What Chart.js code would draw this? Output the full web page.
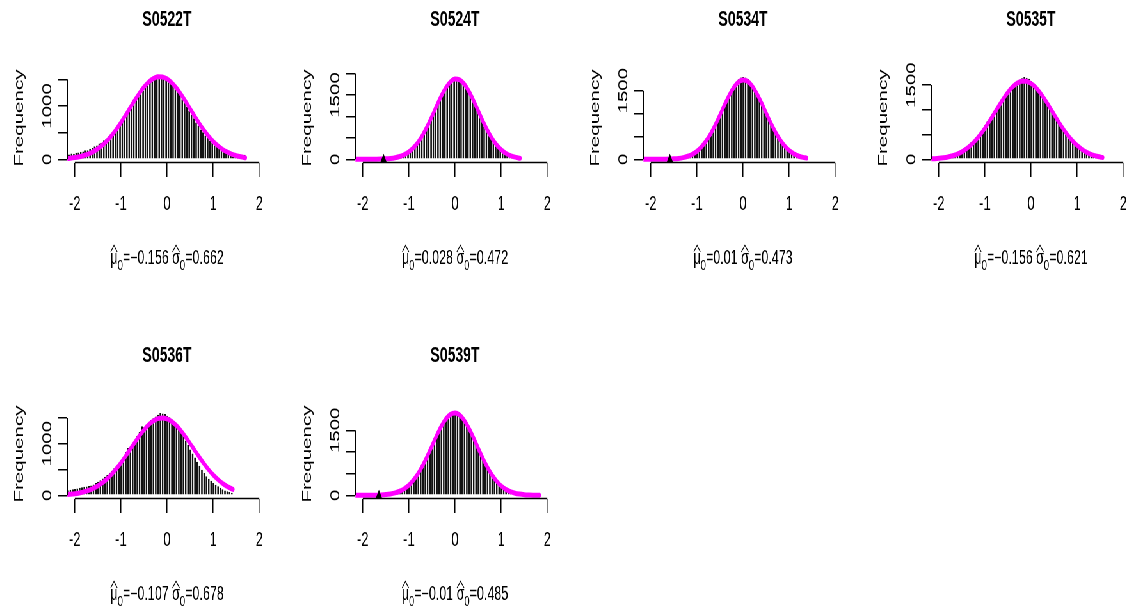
<!DOCTYPE html>
<html>
<head>
<meta charset="utf-8">
<script src="https://cdn.jsdelivr.net/npm/chart.js@4.4.1/dist/chart.umd.min.js"></script>
<style>
  html, body { margin: 0; padding: 0; background: #fff; overflow: hidden; }
  #sheet { position: absolute; left: 0; top: 0; width: 1775px; height: 614px;
           transform: scaleX(0.64); transform-origin: 0 0; }
  #sheet canvas { position: absolute; }
</style>
</head>
<body>
<div id="sheet"></div>
<script>
// ---- data -------------------------------------------------------------
const sampleNames = ['S0522T', 'S0524T', 'S0534T', 'S0535T', 'S0536T', 'S0539T'];
const muHat    = [-0.156, 0.028, 0.01, -0.156, -0.107, -0.01];
const sigmaHat = [0.662, 0.472, 0.473, 0.621, 0.678, 0.485];

const xTickValues = [-2, -1, 0, 1, 2];
const yTickValues = [
  [0, 500, 1000, 1500],
  [0, 500, 1000, 1500, 2000],
  [0, 500, 1000, 1500],
  [0, 500, 1000, 1500],
  [0, 500, 1000, 1500],
  [0, 500, 1000, 1500]
];
const yTickLabelled = [[0, 1000], [0, 1500], [0, 1500], [0, 1500], [0, 1000], [0, 1500]];
const yUpper = [1547, 1925, 1804, 1668, 1599, 1904];

// histogram bins: width and centre of the first bin
const binWidth = 0.05;
const firstBinMid = [-2.125, -1.525, -1.5, -2.15, -2.15, -1.55];

const counts0522 = [92,108,104,125,128,141,147,168,172,199,212,246,258,296,312,357,380,431,470,517,
  566,620,676,742,798,864,923,992,1050,1117,1173,1237,1290,1346,1390,1434,1464,1496,1512,1533,
  1547,1533,1517,1474,1445,1386,1341,1266,1211,1128,1066,979,916,832,770,690,633,561,509,446,
  402,347,310,265,235,198,174,145,127,104,91,74,65,53,47,39,85];
const counts0524 = [14,18,24,31,42,55,70,90,114,143,178,222,272,332,400,478,566,662,765,876,
  990,1108,1219,1351,1455,1553,1660,1728,1800,1857,1890,1920,1895,1850,1782,1705,1617,1500,1379,1262,
  1138,1019,892,771,670,578,484,399,335,275,226,178,140,110,85,65,48,36,45];
const counts0534 = [14,19,25,34,45,62,79,101,128,159,198,244,300,361,433,508,596,684,793,890,
  1009,1120,1228,1324,1442,1536,1619,1679,1748,1786,1800,1791,1755,1701,1633,1549,1467,1367,1266,1149,
  1035,906,797,694,587,490,413,340,280,228,184,146,116,90,69,53,40,30];
const counts0535 = [25,28,32,38,44,52,62,74,88,104,122,143,167,195,226,262,300,344,390,442,
  498,560,622,690,768,835,905,979,1058,1142,1203,1275,1331,1402,1462,1510,1550,1584,1615,1640,
  1665,1650,1627,1585,1540,1483,1430,1372,1307,1232,1152,1080,1003,915,832,746,676,605,542,475,
  416,364,316,273,234,200,169,142,118,97,80,66,53,43,40];
const counts0536 = [98,106,115,124,134,144,154,164,172,180,190,210,236,264,294,326,360,395,435,478,
  523,568,615,668,735,840,918,935,1000,1075,1150,1225,1337,1320,1370,1415,1460,1492,1528,1562,
  1597,1585,1578,1540,1512,1470,1432,1362,1280,1215,1150,1060,975,890,810,735,650,575,495,430,
  370,320,280,240,205,175,145,118,95,78,62,50];
const counts0539 = [16,22,30,40,54,70,90,115,144,180,222,272,328,395,468,552,645,748,862,970,
  1088,1198,1320,1437,1530,1618,1700,1772,1815,1840,1855,1860,1853,1810,1742,1680,1601,1500,1395,1279,
  1172,1058,951,835,724,632,542,460,386,320,262,213,170,135,106,83,63,48,36,27,
  19,13,9,6,4,3,2,55];

// fitted normal curves (frequency scale)
const fitX0522 = [-2.2,-2.1,-2.0,-1.9,-1.8,-1.7,-1.6,-1.5,-1.4,-1.3,-1.2,-1.1,-1.0,-0.9,-0.8,-0.7,-0.6,-0.5,-0.4,-0.3,
  -0.2,-0.1,0,0.1,0.2,0.3,0.4,0.5,0.6,0.7,0.8,0.9,1.0,1.1,1.2,1.3,1.4,1.5,1.6,1.7];
const fitY0522 = [13,21,32,48,71,102,144,197,265,348,447,561,688,824,966,1106,1238,1354,1448,1514,
  1547,1544,1508,1438,1341,1223,1089,949,807,672,546,434,337,256,190,138,98,68,46,30];
const fitX0524 = [-2.2,-2.0,-1.8,-1.7,-1.6,-1.5,-1.4,-1.3,-1.2,-1.1,-1.0,-0.9,-0.8,-0.7,-0.6,-0.5,-0.4,-0.3,-0.2,-0.1,
  0,0.1,0.2,0.3,0.4,0.5,0.6,0.7,0.8,0.9,1.0,1.1,1.2,1.3,1.41];
const fitY0524 = [0,0,1,2,5,10,19,36,64,108,175,271,402,571,774,1003,1243,1473,1668,1807,
  1872,1853,1755,1588,1374,1137,900,681,492,340,225,142,86,50,25];
const fitX0534 = [-2.2,-2.0,-1.8,-1.7,-1.6,-1.5,-1.4,-1.3,-1.2,-1.1,-1.0,-0.9,-0.8,-0.7,-0.6,-0.5,-0.4,-0.3,-0.2,-0.1,
  0,0.1,0.2,0.3,0.4,0.5,0.6,0.7,0.8,0.9,1.0,1.1,1.2,1.3,1.376];
const fitY0534 = [0,0,1,3,5,11,20,37,66,110,177,273,401,562,755,970,1192,1400,1572,1689,
  1735,1704,1601,1438,1235,1015,797,599,430,295,194,122,73,42,27];
const fitX0535 = [-2.2,-2.1,-2.0,-1.9,-1.8,-1.7,-1.6,-1.5,-1.4,-1.3,-1.2,-1.1,-1.0,-0.9,-0.8,-0.7,-0.6,-0.5,-0.4,-0.3,
  -0.2,-0.1,0,0.1,0.2,0.3,0.4,0.5,0.6,0.7,0.8,0.9,1.0,1.1,1.2,1.3,1.4,1.5,1.555];
const fitY0535 = [7,12,19,31,48,72,106,152,213,290,385,498,628,772,924,1078,1225,1357,1464,1540,
  1578,1576,1533,1453,1342,1208,1060,906,754,612,484,373,280,205,146,101,69,45,36];
const fitX0536 = [-2.2,-2.1,-2.0,-1.9,-1.8,-1.7,-1.6,-1.5,-1.4,-1.3,-1.2,-1.1,-1.0,-0.9,-0.8,-0.7,-0.6,-0.5,-0.4,-0.3,
  -0.2,-0.1,0,0.1,0.2,0.3,0.4,0.5,0.6,0.7,0.8,0.9,1.0,1.1,1.2,1.3,1.4,1.43];
const fitY0536 = [13,20,30,45,66,95,133,182,243,319,409,513,630,757,890,1023,1152,1268,1366,1440,
  1486,1500,1481,1432,1354,1253,1134,1005,871,739,613,498,396,308,234,174,127,115];
const fitX0539 = [-2.2,-2.0,-1.8,-1.7,-1.6,-1.5,-1.4,-1.3,-1.2,-1.1,-1.0,-0.9,-0.8,-0.7,-0.6,-0.5,-0.4,-0.3,-0.2,-0.1,
  0,0.1,0.2,0.3,0.4,0.5,0.6,0.7,0.8,0.9,1.0,1.1,1.2,1.3,1.4,1.5,1.6,1.7,1.83];
const fitY0539 = [0,0,2,4,9,17,31,55,94,152,237,353,504,691,907,1141,1375,1589,1760,1868,
  1900,1852,1730,1549,1329,1093,862,651,471,327,217,138,85,49,28,15,8,4,1];

// cut-off markers on the baseline (null = none)
const cutoffX = [null, -1.55, -1.587, null, null, -1.65];

const binCounts = [counts0522, counts0524, counts0534, counts0535, counts0536, counts0539];
const fitX = [fitX0522, fitX0524, fitX0534, fitX0535, fitX0536, fitX0539];
const fitY = [fitY0522, fitY0524, fitY0534, fitY0535, fitY0536, fitY0539];

// ---- layout ------------------------------------------------------------
const FONT = '"Liberation Sans", Arial, Helvetica, sans-serif';
const CANVAS_W = 530, CANVAS_H = 277;
const FIRST_CENTER = 260.5, COL_STEP = 450, ROW_STEP = 336.4;
const Y_AXIS_W = 109.3, X_AXIS_H = 60;
const PLOT_TOP = 73.5, PLOT_BOTTOM = 162.6;
const TITLE_SIZE = 22, AXIS_SIZE = 20.5, TICK_LEN = 14.5;

// R-style axis lines: only from the first to the last tick
const axisLines = {
  id: 'axisLines',
  afterDraw(chart) {
    const { ctx, scales: { x, y } } = chart;
    const yt = y.ticks;
    ctx.save();
    ctx.strokeStyle = '#000';
    ctx.lineWidth = 1.5;
    ctx.beginPath();
    ctx.moveTo(x.getPixelForValue(xTickValues[0]), x.top);
    ctx.lineTo(x.getPixelForValue(xTickValues[xTickValues.length - 1]), x.top);
    ctx.moveTo(y.right, y.getPixelForValue(yt[0].value));
    ctx.lineTo(y.right, y.getPixelForValue(yt[yt.length - 1].value));
    ctx.stroke();
    ctx.restore();
  }
};

// "mu-hat_0 = ..  sigma-hat_0 = .." caption under the axis
const fitCaption = {
  id: 'fitCaption',
  afterDraw(chart, args, opts) {
    const { ctx, chartArea } = chart;
    const fmt = v => (v < 0 ? '\u2212' : '') + String(Math.abs(v));
    const big = 19.5, small = 15;
    const parts = [
      { t: '\u03bc', size: big, hat: true },
      { t: '0', size: small, dy: 5.5 },
      { t: '=' + fmt(opts.mu) + ' ', size: big },
      { t: '\u03c3', size: big, hat: true },
      { t: '0', size: small, dy: 5.5 },
      { t: '=' + fmt(opts.sigma), size: big }
    ];
    ctx.save();
    ctx.fillStyle = '#000';
    ctx.strokeStyle = '#000';
    ctx.textBaseline = 'alphabetic';
    ctx.textAlign = 'left';
    let total = 0;
    parts.forEach(p => {
      ctx.font = p.size + 'px ' + FONT;
      p.w = ctx.measureText(p.t).width;
      total += p.w;
    });
    const base = chartArea.bottom + opts.offset;
    let cx = (chartArea.left + chartArea.right) / 2 - total / 2;
    parts.forEach(p => {
      ctx.font = p.size + 'px ' + FONT;
      ctx.fillText(p.t, cx, base + (p.dy || 0));
      if (p.hat) {
        const yb = base - 0.52 * p.size - 2;
        ctx.lineWidth = 1.1;
        ctx.beginPath();
        ctx.moveTo(cx + 0.5, yb);
        ctx.lineTo(cx + p.w / 2, yb - 6.5);
        ctx.lineTo(cx + p.w - 0.5, yb);
        ctx.stroke();
      }
      cx += p.w;
    });
    ctx.restore();
  }
};

const sheet = document.getElementById('sheet');

sampleNames.forEach((name, p) => {
  const col = p % 4, row = Math.floor(p / 4);
  const canvas = document.createElement('canvas');
  canvas.width = CANVAS_W;
  canvas.height = CANVAS_H;
  canvas.style.left = (FIRST_CENTER + col * COL_STEP - CANVAS_W / 2) + 'px';
  canvas.style.top = (row * ROW_STEP) + 'px';
  canvas.style.width = CANVAS_W + 'px';
  canvas.style.height = CANVAS_H + 'px';
  sheet.appendChild(canvas);

  const top = yUpper[p];
  const datasets = [];
  if (cutoffX[p] !== null) {
    datasets.push({
      type: 'scatter',
      data: [{ x: cutoffX[p], y: 0 }],
      pointStyle: 'triangle',
      pointRadius: 5.5,
      pointBackgroundColor: '#000',
      pointBorderColor: '#000',
      pointBorderWidth: 0,
      order: 0
    });
  }
  datasets.push({
    type: 'line',
    data: fitX[p].map((x, i) => ({ x: x, y: fitY[p][i] })),
    borderColor: '#ff00ff',
    borderWidth: 5,
    pointRadius: 0,
    cubicInterpolationMode: 'monotone',
    borderCapStyle: 'round',
    borderJoinStyle: 'round',
    fill: false,
    order: 1
  });
  datasets.push({
    type: 'bar',
    data: binCounts[p].map((v, i) => ({ x: firstBinMid[p] + i * binWidth, y: v })),
    backgroundColor: '#111',
    borderColor: '#fff',
    borderWidth: { left: 0.95, right: 0, top: 0, bottom: 0 },
    borderSkipped: false,
    inflateAmount: 0,
    barPercentage: 1,
    categoryPercentage: 1,
    order: 2
  });

  new Chart(canvas, {
    type: 'bar',
    data: { datasets: datasets },
    plugins: [axisLines, fitCaption],
    options: {
      responsive: false,
      animation: false,
      devicePixelRatio: 1,
      events: [],
      layout: {
        padding: { left: 0, right: Y_AXIS_W, top: 0, bottom: CANVAS_H - PLOT_BOTTOM - X_AXIS_H }
      },
      plugins: {
        legend: { display: false },
        tooltip: { enabled: false },
        title: {
          display: true,
          fullSize: false,
          text: name,
          color: '#000',
          font: { family: FONT, size: TITLE_SIZE, weight: 'bold' },
          padding: { top: 7, bottom: PLOT_TOP - 7 - TITLE_SIZE * 1.2 }
        },
        fitCaption: { mu: muHat[p], sigma: sigmaHat[p], offset: 101.5 }
      },
      scales: {
        x: {
          type: 'linear',
          min: -2.16,
          max: 2.16,
          offset: false,
          afterBuildTicks: s => { s.ticks = xTickValues.map(v => ({ value: v })); },
          afterFit: s => { s.height = X_AXIS_H; },
          border: { display: false },
          grid: {
            offset: false, drawOnChartArea: false, drawTicks: true,
            tickLength: TICK_LEN, tickWidth: 1.5, tickColor: '#000', color: '#000', lineWidth: 1.5
          },
          ticks: {
            autoSkip: false, maxRotation: 0, minRotation: 0, padding: 15,
            color: '#000', font: { family: FONT, size: AXIS_SIZE },
            callback: v => String(v)
          }
        },
        y: {
          type: 'linear',
          min: -0.04 * top,
          max: 1.04 * top,
          afterBuildTicks: s => { s.ticks = yTickValues[p].map(v => ({ value: v })); },
          afterFit: s => { s.width = Y_AXIS_W; },
          border: { display: false },
          grid: {
            drawOnChartArea: false, drawTicks: true,
            tickLength: TICK_LEN, tickWidth: 1.5, tickColor: '#000', color: '#000', lineWidth: 1.5
          },
          ticks: {
            autoSkip: false, minRotation: 90, maxRotation: 90, crossAlign: 'center', padding: -5.9,
            color: '#000', font: { family: FONT, size: AXIS_SIZE },
            callback: v => (yTickLabelled[p].includes(v) ? String(v) : '')
          },
          title: {
            display: true, text: 'Frequency', color: '#000',
            font: { family: FONT, size: AXIS_SIZE },
            padding: { top: 22.2, bottom: 0 }
          }
        }
      }
    }
  });
});
</script>
</body>
</html>
